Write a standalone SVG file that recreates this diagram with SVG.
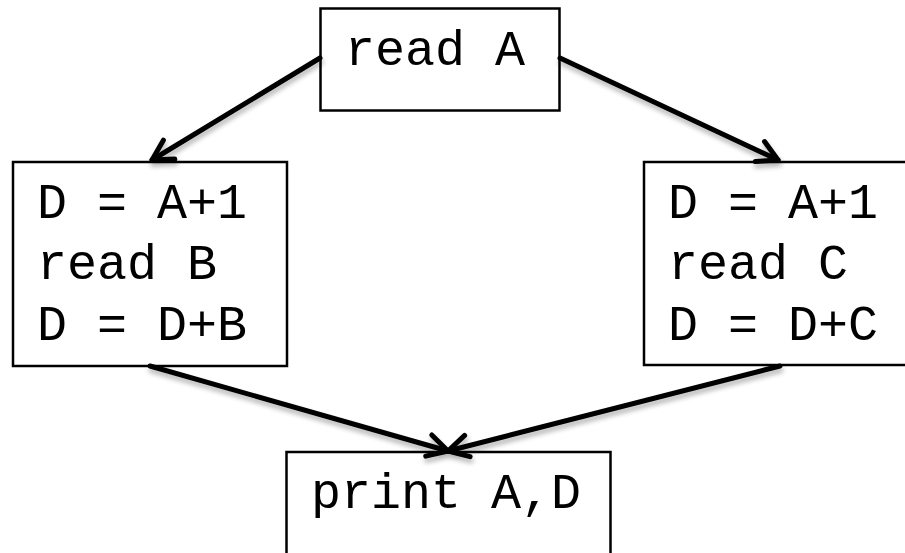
<svg xmlns="http://www.w3.org/2000/svg" width="905" height="553" viewBox="0 0 905 553">
  <style>
    .box { fill: #ffffff; stroke: #000000; stroke-width: 2.5; }
    .code { font-family: "Liberation Mono", "Courier New", monospace; font-size: 50px; fill: #000000; }
    .edge { fill: none; stroke: #000000; stroke-width: 5; stroke-linecap: round; }
  </style>
  <defs>
    <!-- open V arrowhead -->
    <marker id="arrow" markerUnits="userSpaceOnUse" viewBox="-24 -14 28 28" refX="0" refY="0" markerWidth="28" markerHeight="28" orient="auto">
      <path d="M-20,-11 L0,0 L-20,11" fill="none" stroke="#000000" stroke-width="5" stroke-linecap="round" stroke-linejoin="round"/>
    </marker>
    <!-- soft drop shadow under the connectors -->
    <filter id="shadow" x="-20%" y="-20%" width="140%" height="160%">
      <feGaussianBlur in="SourceAlpha" stdDeviation="2.5"/>
      <feOffset dx="1" dy="4" result="blur"/>
      <feComponentTransfer><feFuncA type="linear" slope="0.3"/></feComponentTransfer>
      <feMerge><feMergeNode/><feMergeNode in="SourceGraphic"/></feMerge>
    </filter>
  </defs>

  <rect width="905" height="553" fill="#ffffff"/>

  <g id="node-readA">
    <rect class="box" x="320.5" y="8.5" width="239" height="102"/>
    <text class="code" x="345" y="65">read A</text>
  </g>

  <g id="node-left">
    <rect class="box" x="13" y="162" width="274" height="204"/>
    <text class="code" x="37" y="218">D = A+1</text>
    <text class="code" x="37" y="279">read B</text>
    <text class="code" x="37" y="340">D = D+B</text>
  </g>

  <g id="node-right">
    <rect class="box" x="644" y="162" width="280" height="203"/>
    <text class="code" x="668" y="218">D = A+1</text>
    <text class="code" x="668" y="279">read C</text>
    <text class="code" x="668" y="340">D = D+C</text>
  </g>

  <g id="node-print">
    <rect class="box" x="286.5" y="452" width="324" height="120"/>
    <text class="code" x="311" y="508">print A,D</text>
  </g>

  <g id="connectors" filter="url(#shadow)">
    <line class="edge" x1="320" y1="58" x2="152" y2="160" marker-end="url(#arrow)"/>
    <line class="edge" x1="560" y1="58" x2="778" y2="160" marker-end="url(#arrow)"/>
    <line class="edge" x1="150" y1="366" x2="448" y2="451" marker-end="url(#arrow)"/>
    <line class="edge" x1="780" y1="366" x2="448" y2="451" marker-end="url(#arrow)"/>
  </g>
</svg>
